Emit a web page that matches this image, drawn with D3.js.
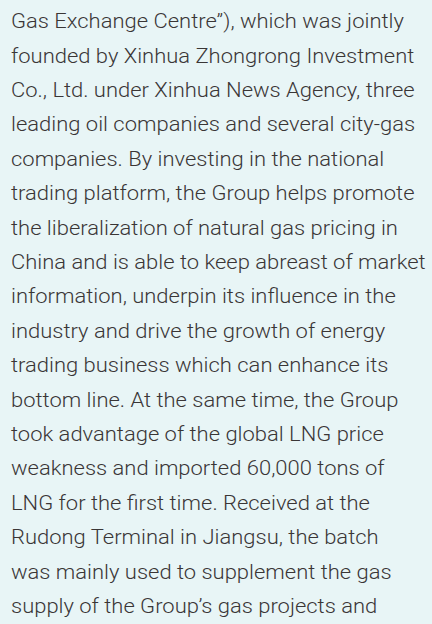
<!DOCTYPE html>
<html>
<head>
<meta charset="utf-8">
<script src="https://cdn.jsdelivr.net/npm/d3@7"></script>
<style>
  html, body { margin: 0; padding: 0; background: #e8f5f6; }
  svg { display: block; }
</style>
</head>
<body>
<div id="page"></div>
<script>
'use strict';

var lines = [
  'Gas Exchange Centre\u201d), which was jointly',
  'founded by Xinhua Zhongrong Investment',
  'Co., Ltd. under Xinhua News Agency, three',
  'leading oil companies and several city-gas',
  'companies. By investing in the national',
  'trading platform, the Group helps promote',
  'the liberalization of natural gas pricing in',
  'China and is able to keep abreast of market',
  'information, underpin its influence in the',
  'industry and drive the growth of energy',
  'trading business which can enhance its',
  'bottom line. At the same time, the Group',
  'took advantage of the global LNG price',
  'weakness and imported 60,000 tons of',
  'LNG for the first time. Received at the',
  'Rudong Terminal in Jiangsu, the batch',
  'was mainly used to supplement the gas',
  'supply of the Group\u2019s gas projects and'
];

var width = 432, height = 624;

var svg = d3.select('#page').append('svg')
  .attr('width', width)
  .attr('height', height);

svg.append('rect')
  .attr('width', width)
  .attr('height', height)
  .attr('fill', '#e8f5f6');

// baseline of each line
var y = d3.scaleLinear()
  .domain([0, lines.length - 1])
  .range([28.3, 613]);

var g = svg.append('g');

var texts = g.selectAll('text')
  .data(lines)
  .enter()
  .append('text')
  .attr('x', 0)
  .attr('y', function(d, i) { return y(i); })
  .style('font-family', 'Roboto, "Liberation Sans", sans-serif')
  .style('font-weight', '300')
  .style('font-size', '20px')
  .style('fill', '#3a3636')
  .text(function(d) { return d; });

// squeeze horizontally so the widest line ("China and ... market") spans as in the original
var ref = texts.filter(function(d, i) { return i === 7; }).node();
var w = ref.getComputedTextLength();
var sx = 415 / w;
g.attr('transform', 'translate(11,0) scale(' + sx + ',1)');
</script>
</body>
</html>
